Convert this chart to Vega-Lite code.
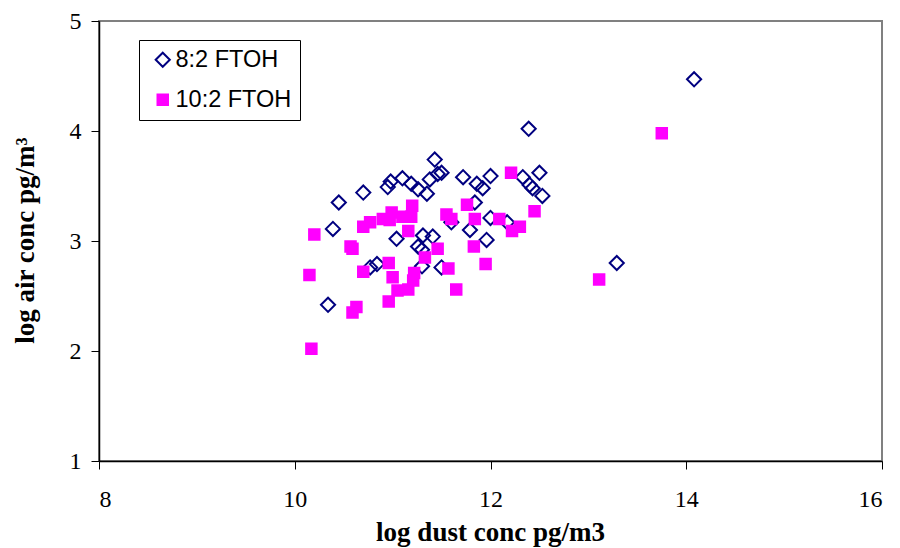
{
  "$schema": "https://vega.github.io/schema/vega-lite/v6.json",
  "width": 783,
  "height": 440,
  "autosize": "none",
  "padding": {"left": 99, "top": 21, "right": 18, "bottom": 87},
  "background": "white",
  "config": {
    "view": {"stroke": "#808080", "strokeWidth": 2},
    "axis": {
      "grid": false,
      "domainColor": "black",
      "domainWidth": 1.5,
      "tickColor": "black",
      "tickWidth": 1,
      "tickSize": 8,
      "labelFont": "Liberation Serif",
      "labelFontSize": 24,
      "labelColor": "black",
      "titleFont": "Liberation Serif",
      "titleFontSize": 27,
      "titleFontWeight": "bold",
      "titleColor": "black"
    }
  },
  "data": {
    "values": [
      {"x": 10.34, "y": 2.42, "s": "8:2 FTOH"},
      {"x": 10.39, "y": 3.11, "s": "8:2 FTOH"},
      {"x": 10.45, "y": 3.35, "s": "8:2 FTOH"},
      {"x": 10.70, "y": 3.44, "s": "8:2 FTOH"},
      {"x": 10.77, "y": 2.76, "s": "8:2 FTOH"},
      {"x": 10.84, "y": 2.79, "s": "8:2 FTOH"},
      {"x": 10.95, "y": 3.49, "s": "8:2 FTOH"},
      {"x": 10.98, "y": 3.54, "s": "8:2 FTOH"},
      {"x": 11.04, "y": 3.02, "s": "8:2 FTOH"},
      {"x": 11.10, "y": 3.57, "s": "8:2 FTOH"},
      {"x": 11.19, "y": 3.52, "s": "8:2 FTOH"},
      {"x": 11.26, "y": 3.47, "s": "8:2 FTOH"},
      {"x": 11.35, "y": 3.43, "s": "8:2 FTOH"},
      {"x": 11.38, "y": 3.56, "s": "8:2 FTOH"},
      {"x": 11.43, "y": 3.74, "s": "8:2 FTOH"},
      {"x": 11.46, "y": 3.61, "s": "8:2 FTOH"},
      {"x": 11.50, "y": 3.62, "s": "8:2 FTOH"},
      {"x": 11.26, "y": 2.95, "s": "8:2 FTOH"},
      {"x": 11.30, "y": 2.92, "s": "8:2 FTOH"},
      {"x": 11.31, "y": 3.05, "s": "8:2 FTOH"},
      {"x": 11.41, "y": 3.04, "s": "8:2 FTOH"},
      {"x": 11.30, "y": 2.77, "s": "8:2 FTOH"},
      {"x": 11.50, "y": 2.76, "s": "8:2 FTOH"},
      {"x": 11.60, "y": 3.17, "s": "8:2 FTOH"},
      {"x": 11.72, "y": 3.58, "s": "8:2 FTOH"},
      {"x": 11.79, "y": 3.10, "s": "8:2 FTOH"},
      {"x": 11.86, "y": 3.52, "s": "8:2 FTOH"},
      {"x": 11.92, "y": 3.48, "s": "8:2 FTOH"},
      {"x": 11.84, "y": 3.35, "s": "8:2 FTOH"},
      {"x": 11.96, "y": 3.01, "s": "8:2 FTOH"},
      {"x": 12.00, "y": 3.59, "s": "8:2 FTOH"},
      {"x": 12.00, "y": 3.21, "s": "8:2 FTOH"},
      {"x": 12.17, "y": 3.17, "s": "8:2 FTOH"},
      {"x": 12.33, "y": 3.58, "s": "8:2 FTOH"},
      {"x": 12.40, "y": 3.51, "s": "8:2 FTOH"},
      {"x": 12.50, "y": 3.62, "s": "8:2 FTOH"},
      {"x": 12.43, "y": 3.48, "s": "8:2 FTOH"},
      {"x": 12.53, "y": 3.41, "s": "8:2 FTOH"},
      {"x": 12.39, "y": 4.02, "s": "8:2 FTOH"},
      {"x": 13.29, "y": 2.80, "s": "8:2 FTOH"},
      {"x": 14.08, "y": 4.47, "s": "8:2 FTOH"},
      {"x": 10.15, "y": 2.69, "s": "10:2 FTOH"},
      {"x": 10.17, "y": 2.02, "s": "10:2 FTOH"},
      {"x": 10.20, "y": 3.06, "s": "10:2 FTOH"},
      {"x": 10.57, "y": 2.95, "s": "10:2 FTOH"},
      {"x": 10.59, "y": 2.93, "s": "10:2 FTOH"},
      {"x": 10.59, "y": 2.35, "s": "10:2 FTOH"},
      {"x": 10.63, "y": 2.40, "s": "10:2 FTOH"},
      {"x": 10.70, "y": 3.13, "s": "10:2 FTOH"},
      {"x": 10.70, "y": 2.72, "s": "10:2 FTOH"},
      {"x": 10.77, "y": 3.17, "s": "10:2 FTOH"},
      {"x": 10.90, "y": 3.20, "s": "10:2 FTOH"},
      {"x": 10.97, "y": 3.19, "s": "10:2 FTOH"},
      {"x": 10.99, "y": 3.26, "s": "10:2 FTOH"},
      {"x": 10.96, "y": 2.80, "s": "10:2 FTOH"},
      {"x": 10.96, "y": 2.45, "s": "10:2 FTOH"},
      {"x": 11.00, "y": 2.67, "s": "10:2 FTOH"},
      {"x": 11.05, "y": 2.55, "s": "10:2 FTOH"},
      {"x": 11.10, "y": 3.22, "s": "10:2 FTOH"},
      {"x": 11.19, "y": 3.22, "s": "10:2 FTOH"},
      {"x": 11.20, "y": 3.32, "s": "10:2 FTOH"},
      {"x": 11.16, "y": 3.09, "s": "10:2 FTOH"},
      {"x": 11.16, "y": 2.56, "s": "10:2 FTOH"},
      {"x": 11.22, "y": 2.71, "s": "10:2 FTOH"},
      {"x": 11.21, "y": 2.64, "s": "10:2 FTOH"},
      {"x": 11.33, "y": 2.85, "s": "10:2 FTOH"},
      {"x": 11.46, "y": 2.93, "s": "10:2 FTOH"},
      {"x": 11.55, "y": 3.24, "s": "10:2 FTOH"},
      {"x": 11.60, "y": 3.20, "s": "10:2 FTOH"},
      {"x": 11.57, "y": 2.75, "s": "10:2 FTOH"},
      {"x": 11.65, "y": 2.56, "s": "10:2 FTOH"},
      {"x": 11.76, "y": 3.33, "s": "10:2 FTOH"},
      {"x": 11.84, "y": 3.20, "s": "10:2 FTOH"},
      {"x": 11.83, "y": 2.95, "s": "10:2 FTOH"},
      {"x": 11.95, "y": 2.79, "s": "10:2 FTOH"},
      {"x": 12.09, "y": 3.20, "s": "10:2 FTOH"},
      {"x": 12.21, "y": 3.62, "s": "10:2 FTOH"},
      {"x": 12.22, "y": 3.09, "s": "10:2 FTOH"},
      {"x": 12.30, "y": 3.13, "s": "10:2 FTOH"},
      {"x": 12.45, "y": 3.27, "s": "10:2 FTOH"},
      {"x": 13.11, "y": 2.65, "s": "10:2 FTOH"},
      {"x": 13.75, "y": 3.98, "s": "10:2 FTOH"}
    ]
  },
  "mark": {"type": "point", "strokeWidth": 2, "opacity": 1},
  "encoding": {
    "x": {
      "field": "x", "type": "quantitative",
      "scale": {"domain": [8, 16], "nice": false, "zero": false},
      "axis": {
        "values": [8, 10, 12, 14, 16],
        "title": "log dust conc pg/m3",
        "labelPadding": 18,
        "titleX": 391, "titleY": 79,
        "titleAlign": "center", "titleBaseline": "alphabetic", "titleAnchor": null
      }
    },
    "y": {
      "field": "y", "type": "quantitative",
      "scale": {"domain": [1, 5], "nice": false, "zero": false},
      "axis": {
        "values": [1, 2, 3, 4, 5],
        "title": "log air conc pg/m³",
        "labelPadding": 10,
        "titleAngle": 270,
        "titleX": -66, "titleY": 219,
        "titleAlign": "center", "titleBaseline": "alphabetic", "titleAnchor": null
      }
    },
    "shape": {
      "field": "s", "type": "nominal",
      "scale": {"domain": ["8:2 FTOH", "10:2 FTOH"], "range": ["diamond", "square"]},
      "legend": {
        "title": null, "orient": "none", "legendX": 40, "legendY": 19,
        "strokeColor": "black", "fillColor": "white", "padding": 8,
        "labelFont": "Liberation Sans", "labelFontSize": 23.5, "labelColor": "black",
        "rowPadding": 15, "labelOffset": 1, "symbolOffset": 4, "symbolStrokeWidth": 2
      }
    },
    "stroke": {
      "field": "s", "type": "nominal",
      "scale": {"domain": ["8:2 FTOH", "10:2 FTOH"], "range": ["#000080", "#FF00FF"]}
    },
    "fill": {
      "field": "s", "type": "nominal",
      "scale": {"domain": ["8:2 FTOH", "10:2 FTOH"], "range": ["transparent", "#FF00FF"]}
    },
    "size": {
      "field": "s", "type": "nominal",
      "scale": {"domain": ["8:2 FTOH", "10:2 FTOH"], "range": [200, 110]}
    }
  }
}
